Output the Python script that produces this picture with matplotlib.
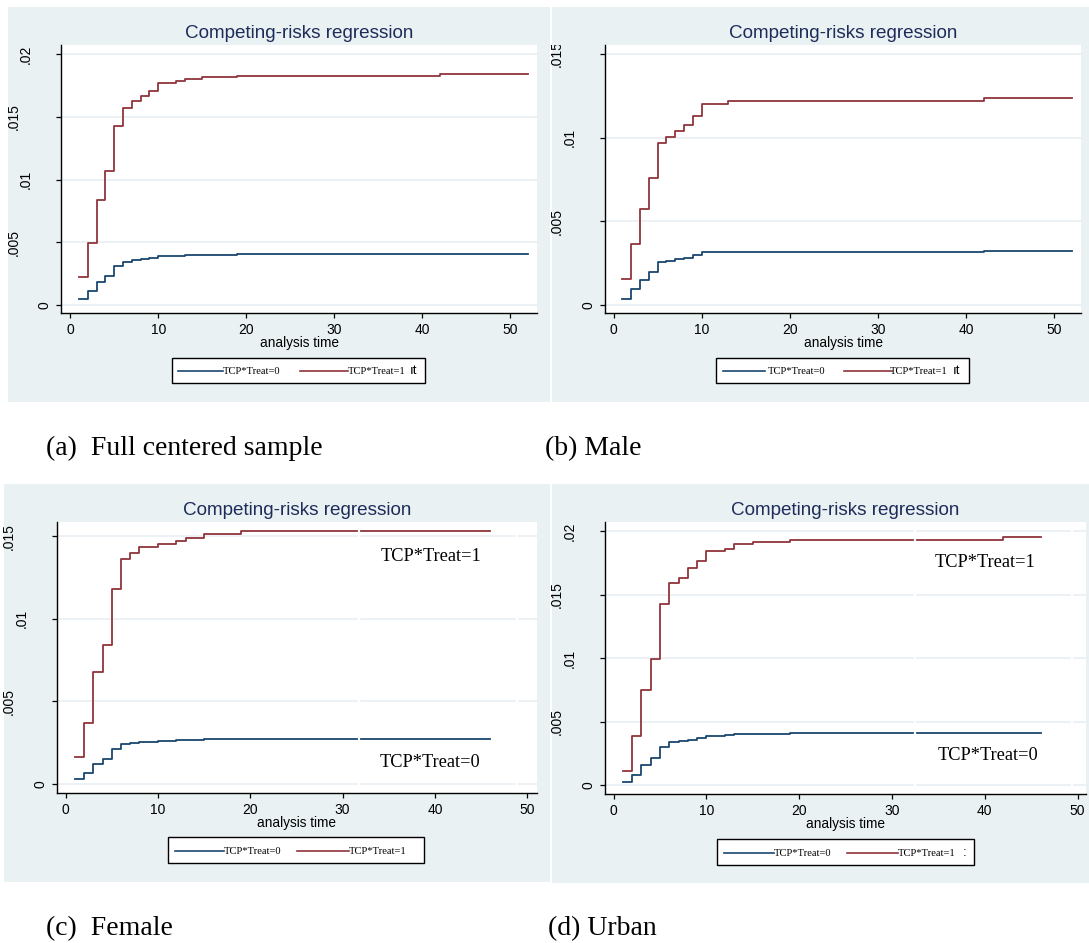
import numpy as np
import matplotlib
matplotlib.use("Agg")
import matplotlib.pyplot as plt
import matplotlib.transforms as mtransforms
from matplotlib.patches import Rectangle
from matplotlib.lines import Line2D
from matplotlib.textpath import TextToPath
from matplotlib.font_manager import FontProperties

# ---------------- data ----------------
times_a = [1, 2, 3, 4, 5, 6, 7, 8, 9, 10, 12, 13, 15, 19, 42]
end_a = 52
treat1_a = [0.0022, 0.00497, 0.00837, 0.01065, 0.01429, 0.01572, 0.01623, 0.01668,
            0.01708, 0.01772, 0.01782, 0.01803, 0.01814, 0.01827, 0.01843]
treat0_a = [0.00048, 0.00109, 0.00186, 0.00234, 0.00313, 0.00345, 0.00359, 0.00369,
            0.00377, 0.0039, 0.00393, 0.00398, 0.00401, 0.00404, 0.00406]

times_b = [1, 2, 3, 4, 5, 6, 7, 8, 9, 10, 13, 42]
end_b = 52
treat1_b = [0.00157, 0.00365, 0.00576, 0.00761, 0.00968, 0.01004, 0.01042, 0.01078,
            0.01129, 0.01199, 0.01219, 0.01237]
treat0_b = [0.00038, 0.00096, 0.00151, 0.00199, 0.00255, 0.00265, 0.00275, 0.00283,
            0.00297, 0.00315, 0.00319, 0.00325]

times_c = [1, 2, 3, 4, 5, 6, 7, 8, 10, 12, 13, 15, 19]
end_c = 46
treat1_c = [0.00165, 0.00371, 0.00677, 0.00839, 0.01179, 0.01359, 0.01399, 0.01435,
            0.01454, 0.01472, 0.0149, 0.0151, 0.0153]
treat0_c = [0.00028, 0.00065, 0.00121, 0.00149, 0.0021, 0.00244, 0.0025, 0.00256,
            0.00262, 0.00265, 0.00268, 0.0027, 0.00274]

times_d = [1, 2, 3, 4, 5, 6, 7, 8, 9, 10, 12, 13, 15, 19, 42]
end_d = 46
treat1_d = [0.00115, 0.00388, 0.00751, 0.00997, 0.0143, 0.01596, 0.01633, 0.01709,
            0.01769, 0.01845, 0.01861, 0.01898, 0.01916, 0.01934, 0.01955]
treat0_d = [0.00024, 0.00081, 0.00157, 0.00213, 0.00304, 0.00339, 0.00346, 0.0036,
            0.00373, 0.00388, 0.00394, 0.00402, 0.00404, 0.00409, 0.00412]

xticks = [0, 10, 20, 30, 40, 50]
yticks_a = [0, 0.005, 0.01, 0.015, 0.02]
yticks_b = [0, 0.005, 0.01, 0.015]
yticks_c = [0, 0.005, 0.01, 0.015]
yticks_d = [0, 0.005, 0.01, 0.015, 0.02]
ytick_labels = {0: "0", 0.005: ".005", 0.01: ".01", 0.015: ".015", 0.02: ".02"}

series_labels = ["TCP*Treat=0", "TCP*Treat=1"]
title_text = "Competing-risks regression"
xlabel_text = "analysis time"
captions = ["(a)  Full centered sample", "(b) Male", "(c)  Female", "(d) Urban"]

# ---------------- style ----------------
W, H, DPI = 1089, 943, 100
BG = "#E9F1F3"
GRID = "#E6EEF1"
NAVY = "#1A476F"
MAROON = "#90353B"
TITLE_C = "#1E2C5A"
SANS = "Liberation Sans"
SERIF = "Liberation Serif"
TICK_FS = 10.0

fig = plt.figure(figsize=(W / DPI, H / DPI), dpi=DPI)
fig.patch.set_facecolor("white")


def fx(px):
    return px / W


def fy(py):
    return 1 - py / H


def rect_px(l, t, r, b):
    return [fx(l), fy(b), (r - l) / W, (b - t) / H]


ttp = TextToPath()
tick_prop = FontProperties(family=SANS, size=TICK_FS)


def text_w_px(s):
    w, h, d = ttp.get_text_width_height_descent(s, tick_prop, ismath=False)
    return w * DPI / 72.0


panels = [
    dict(times=times_a, end=end_a, t1=treat1_a, t0=treat0_a, yt=yticks_a,
         bg=(7.7, 7, 550, 402), plot=(61.4, 45, 536.6, 313.3),
         xlim=(-1, 53), ylim=(-0.00066, 0.02072),
         title_y=38.5, xlab_y=347.5,
         leg=dict(box=(172, 358, 425, 383), yc=371, l0=(178, 223), t0x=223,
                  l1=(300, 348), t1x=348, extra=("ıt", 410)),
         notes=None, gaps=[], cap=(46, 455)),
    dict(times=times_b, end=end_b, t1=treat1_b, t0=treat0_b, yt=yticks_b,
         bg=(552, 7, 1089, 402), plot=(605, 45, 1081, 313.3),
         xlim=(-0.98, 53.05), ylim=(-0.0005, 0.01554),
         title_y=38.5, xlab_y=347.5,
         leg=dict(box=(716, 358, 969, 383), yc=371, l0=(723, 765), t0x=768,
                  l1=(844, 892), t1x=890, extra=("ıt", 953)),
         notes=None, gaps=[], cap=(545, 455)),
    dict(times=times_c, end=end_c, t1=treat1_c, t0=treat0_c, yt=yticks_c,
         bg=(3.5, 484, 550, 882), plot=(56.8, 521.7, 536.6, 793.3),
         xlim=(-0.95, 51.0), ylim=(-0.00056, 0.01587),
         title_y=515, xlab_y=826.5,
         leg=dict(box=(168, 837, 424, 863), yc=851, l0=(175, 224), t0x=224,
                  l1=(297, 349), t1x=349, extra=None),
         notes=[(34.1, 0.01379, series_labels[1]), (33.95, 0.00133, series_labels[0])],
         gaps=[31.8, 48.9], cap=(46, 935)),
    dict(times=times_d, end=end_d, t1=treat1_d, t0=treat0_d, yt=yticks_d,
         bg=(552, 484, 1089, 883), plot=(605, 521.7, 1086, 794.3),
         xlim=(-0.93, 50.9), ylim=(-0.00071, 0.02076),
         title_y=515, xlab_y=828,
         leg=dict(box=(717, 839, 974, 865), yc=853, l0=(724, 774), t0x=774,
                  l1=(847, 898), t1x=898, extra=(":", 963)),
         notes=[(34.6, 0.01758, series_labels[1]), (34.95, 0.00231, series_labels[0])],
         gaps=[32.5, 49.4], cap=(548, 935)),
]

for i, p in enumerate(panels):
    l, t, r, b = p["bg"]
    fig.patches.append(Rectangle((fx(l), fy(b)), (r - l) / W, (b - t) / H,
                                 transform=fig.transFigure, facecolor=BG,
                                 edgecolor="none", zorder=0))
    pl, pt, pr, pb = p["plot"]
    ax = fig.add_axes(rect_px(pl, pt, pr, pb))
    ax.set_facecolor("white")
    ax.set_zorder(1)

    x = list(p["times"]) + [p["end"]]
    y0 = list(p["t0"]) + [p["t0"][-1]]
    y1 = list(p["t1"]) + [p["t1"][-1]]
    ax.step(x, y0, where="post", color=NAVY, lw=1.3, zorder=3)
    ax.step(x, y1, where="post", color=MAROON, lw=1.3, zorder=3)
    for g in p["gaps"]:
        ax.axvline(g, ymin=0.01, ymax=1, color="white", lw=1.6, zorder=4)

    ax.set_xlim(*p["xlim"])
    ax.set_ylim(*p["ylim"])
    ax.set_xticks(xticks)
    ax.set_xticklabels([str(v) for v in xticks], fontfamily=SANS, fontsize=TICK_FS)
    ax.set_yticks(p["yt"])
    ax.tick_params(axis="y", labelleft=False, length=5 * 72 / DPI, width=0.9,
                   direction="out", color="black")
    ax.tick_params(axis="x", length=5 * 72 / DPI, width=0.9, direction="out",
                   pad=3.5, color="black")
    ax.yaxis.grid(True, color=GRID, lw=1.1)
    ax.xaxis.grid(False)
    ax.set_axisbelow(True)
    for s in ["top", "right"]:
        ax.spines[s].set_visible(False)
    for s in ["left", "bottom"]:
        ax.spines[s].set_color("black")
        ax.spines[s].set_linewidth(1.0)

    # rotated y tick labels, placed as in the reference
    trans = mtransforms.blended_transform_factory(ax.transAxes, ax.transData)
    for v in p["yt"]:
        s = ytick_labels[v]
        d = 4.2 + 1.62 * text_w_px(s)
        tr = trans + mtransforms.ScaledTranslation(-d / DPI, 0, fig.dpi_scale_trans)
        txt = ax.text(0, v, s, transform=tr, rotation=90, ha="center", va="center",
                      fontfamily=SANS, fontsize=TICK_FS, color="black")
        txt.set_clip_box(mtransforms.TransformedBbox(
            mtransforms.Bbox.from_extents(0, fy(pb + 30), fx(pl), fy(pt - 0.5)),
            fig.transFigure))
        txt.set_clip_on(True)

    # title and axis title
    cx = (pl + pr) / 2
    fig.text(fx(cx), fy(p["title_y"]), title_text, ha="center", va="baseline",
             fontfamily=SANS, fontsize=13.6, color=TITLE_C)
    fig.text(fx(cx), fy(p["xlab_y"]), xlabel_text, ha="center", va="baseline",
             fontfamily=SANS, fontsize=9.8, color="black")

    # in-plot annotations
    if p["notes"]:
        for nx, ny, s in p["notes"]:
            ax.text(nx, ny, s, ha="left", va="center", fontfamily=SERIF,
                    fontsize=13.2, color="black", zorder=5)

    # legend box
    lg = p["leg"]
    bl, bt, br, bb = lg["box"]
    fig.patches.append(Rectangle((fx(bl), fy(bb)), (br - bl) / W, (bb - bt) / H,
                                 transform=fig.transFigure, facecolor="white",
                                 edgecolor="black", lw=1.0, zorder=2))
    yc = fy(lg["yc"])
    fig.lines.append(Line2D([fx(lg["l0"][0]), fx(lg["l0"][1])], [yc, yc],
                            transform=fig.transFigure, color=NAVY, lw=1.2, zorder=3))
    fig.lines.append(Line2D([fx(lg["l1"][0]), fx(lg["l1"][1])], [yc, yc],
                            transform=fig.transFigure, color=MAROON, lw=1.2, zorder=3))
    fig.text(fx(lg["t0x"]), yc, series_labels[0], ha="left", va="center",
             fontfamily=SERIF, fontsize=7.6, color="black", zorder=4)
    fig.text(fx(lg["t1x"]), yc, series_labels[1], ha="left", va="center",
             fontfamily=SERIF, fontsize=7.6, color="black", zorder=4)
    if lg["extra"]:
        es, ex = lg["extra"]
        fig.text(fx(ex), yc, es, ha="left", va="center", fontfamily=SANS,
                 fontsize=9.5, color="black", zorder=4)

    # caption under panel
    capx, capy = p["cap"]
    fig.text(fx(capx), fy(capy), captions[i], ha="left", va="baseline",
             fontfamily=SERIF, fontsize=20, color="black")

fig.savefig("out.png", dpi=DPI, facecolor="white")
